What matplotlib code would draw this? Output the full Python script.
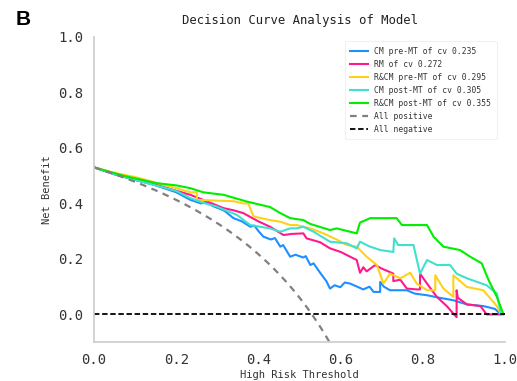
import matplotlib
matplotlib.use("Agg")
import matplotlib.pyplot as plt
import numpy as np

# prevalence
prevalence = 0.53

# CM pre-MT (blue)
cm_pre_t = [0.0, 0.05, 0.10, 0.15, 0.20, 0.234, 0.26, 0.27, 0.29, 0.315, 0.32, 0.339, 0.36, 0.38,
            0.39, 0.40, 0.412, 0.43, 0.44, 0.453, 0.46, 0.477, 0.49, 0.509, 0.515, 0.526, 0.534, 0.55,
            0.565, 0.574, 0.585, 0.599, 0.61, 0.623, 0.64, 0.655, 0.67, 0.68, 0.696, 0.696, 0.705,
            0.72, 0.745, 0.761, 0.78, 0.81, 0.84, 0.874, 0.907, 0.947, 0.975, 0.99]
cm_pre_nb = [0.53, 0.505, 0.485, 0.465, 0.44, 0.413, 0.40, 0.405, 0.39, 0.375, 0.37, 0.347, 0.335,
             0.316, 0.32, 0.30, 0.28, 0.27, 0.275, 0.244, 0.25, 0.208, 0.215, 0.205, 0.21, 0.178,
             0.184, 0.15, 0.12, 0.093, 0.105, 0.098, 0.115, 0.111, 0.10, 0.09, 0.10, 0.081, 0.081,
             0.117, 0.10, 0.087, 0.087, 0.087, 0.075, 0.069, 0.06, 0.051, 0.036, 0.03, 0.02, 0.0]

# RM (pink)
rm_t = [0.0, 0.05, 0.10, 0.152, 0.19, 0.234, 0.27, 0.315, 0.34, 0.363, 0.40, 0.428, 0.461, 0.48,
        0.509, 0.517, 0.55, 0.574, 0.60, 0.639, 0.647, 0.655, 0.663, 0.684, 0.70, 0.728, 0.728,
        0.745, 0.761, 0.785, 0.793, 0.793, 0.81, 0.834, 0.858, 0.882, 0.882, 0.885, 0.907, 0.94,
        0.955, 0.99]
rm_nb = [0.53, 0.505, 0.485, 0.467, 0.45, 0.431, 0.41, 0.383, 0.375, 0.365, 0.335, 0.316, 0.286, 0.29,
         0.292, 0.274, 0.26, 0.238, 0.225, 0.196, 0.15, 0.17, 0.155, 0.178, 0.165, 0.147, 0.12,
         0.125, 0.093, 0.09, 0.09, 0.147, 0.111, 0.063, 0.03, -0.01, 0.087, 0.06, 0.036, 0.03,
         0.0, 0.0]

# R&CM pre-MT (yellow)
rcm_pre_t = [0.0, 0.05, 0.10, 0.15, 0.20, 0.234, 0.25, 0.25, 0.30, 0.339, 0.363, 0.375, 0.388,
             0.428, 0.453, 0.477, 0.493, 0.526, 0.558, 0.59, 0.615, 0.639, 0.663, 0.688, 0.704,
             0.72, 0.745, 0.769, 0.785, 0.81, 0.83, 0.83, 0.85, 0.874, 0.874, 0.907, 0.947, 0.98, 0.99]
rcm_pre_nb = [0.53, 0.51, 0.495, 0.475, 0.455, 0.44, 0.44, 0.413, 0.41, 0.408, 0.40, 0.40, 0.353,
              0.34, 0.334, 0.322, 0.322, 0.31, 0.292, 0.27, 0.25, 0.244, 0.208, 0.178, 0.111,
              0.147, 0.13, 0.15, 0.111, 0.087, 0.087, 0.141, 0.093, 0.063, 0.141, 0.099, 0.087,
              0.03, 0.0]

# CM post-MT (cyan)
cm_post_t = [0.0, 0.05, 0.10, 0.15, 0.20, 0.234, 0.27, 0.298, 0.32, 0.347, 0.38, 0.428, 0.453,
             0.477, 0.493, 0.509, 0.534, 0.574, 0.615, 0.639, 0.647, 0.67, 0.696, 0.728, 0.73,
             0.74, 0.777, 0.793, 0.81, 0.834, 0.866, 0.882, 0.907, 0.955, 0.98, 0.99]
cm_post_nb = [0.53, 0.505, 0.485, 0.465, 0.445, 0.419, 0.40, 0.389, 0.375, 0.359, 0.322, 0.31, 0.298,
              0.31, 0.31, 0.316, 0.298, 0.262, 0.256, 0.238, 0.262, 0.245, 0.232, 0.225, 0.274,
              0.25, 0.25, 0.147, 0.196, 0.178, 0.178, 0.147, 0.13, 0.105, 0.075, 0.0]

# R&CM post-MT (green)
rcm_post_t = [0.0, 0.071, 0.152, 0.20, 0.234, 0.266, 0.315, 0.371, 0.428, 0.453, 0.477, 0.509,
              0.526, 0.574, 0.59, 0.639, 0.647, 0.672, 0.736, 0.749, 0.81, 0.826, 0.85, 0.89, 0.915,
              0.943, 0.96, 0.98, 0.996]
rcm_post_nb = [0.53, 0.50, 0.473, 0.465, 0.455, 0.44, 0.431, 0.407, 0.387, 0.365, 0.347, 0.34,
               0.326, 0.304, 0.31, 0.292, 0.331, 0.347, 0.347, 0.322, 0.322, 0.28, 0.244, 0.232, 0.208,
               0.184, 0.123, 0.063, 0.0]

labels = ["CM pre-MT of cv 0.235", "RM of cv 0.272", "R&CM pre-MT of cv 0.295",
          "CM post-MT of cv 0.305", "R&CM post-MT of cv 0.355"]
colors = ["#1e8fff", "#ff1a8c", "#ffd21a", "#40e0d0", "#00ee00"]

mono = "DejaVu Sans Mono"

fig = plt.figure(figsize=(5.17, 3.81), dpi=100)
ax = fig.add_axes([0.182, 0.102, 0.795, 0.801])

series = [(cm_pre_t, cm_pre_nb), (rm_t, rm_nb), (rcm_pre_t, rcm_pre_nb),
          (cm_post_t, cm_post_nb), (rcm_post_t, rcm_post_nb)]
for (t, nb), lab, col in zip(series, labels, colors):
    ax.plot(t, nb, color=col, lw=1.5, label=lab)

# treat-all and treat-none reference lines
thr = np.linspace(0, 0.6, 200)
all_pos = prevalence - (1 - prevalence) * thr / (1 - thr)
ax.plot(thr, all_pos, color="gray", ls=(0, (3, 2.5)), lw=1.6, label="All positive")
ax.plot([0, 1], [0, 0], color="black", ls=(0, (3, 1.5)), lw=1.3, label="All negative")

ax.set_xlim(0, 1)
ax.set_ylim(-0.1, 1.0)
ax.set_xticks([0, 0.2, 0.4, 0.6, 0.8, 1.0])
ax.set_yticks([0, 0.2, 0.4, 0.6, 0.8, 1.0])
ax.set_xticklabels(["0.0", "0.2", "0.4", "0.6", "0.8", "1.0"], fontfamily=mono, fontsize=10, color="#333333")
ax.set_yticklabels(["0.0", "0.2", "0.4", "0.6", "0.8", "1.0"], fontfamily=mono, fontsize=10, color="#333333")
ax.tick_params(length=0, pad=8)
for s in ["top", "right"]:
    ax.spines[s].set_visible(False)
for s in ["left", "bottom"]:
    ax.spines[s].set_color("#cccccc")
    ax.spines[s].set_linewidth(1.2)

ax.set_xlabel("High Risk Threshold", fontfamily=mono, fontsize=7.5, color="#333333", labelpad=2)
ax.set_ylabel("Net Benefit", fontfamily=mono, fontsize=7.5, color="#333333", labelpad=4)
ax.set_title("Decision Curve Analysis of Model", fontfamily=mono, fontsize=8.8, color="#222222", pad=9)

leg = ax.legend(loc="upper right", prop={"family": mono, "size": 5.8}, frameon=True,
                borderpad=0.7, labelspacing=0.5, handlelength=2.2, bbox_to_anchor=(0.99, 1.0))
leg.get_frame().set_edgecolor("#eeeeee")
leg.get_frame().set_linewidth(0.8)
for txt in leg.get_texts():
    txt.set_color("#333333")

fig.text(0.03, 0.935, "B", fontsize=15, fontweight="bold", family="Liberation Sans")

fig.savefig("out.png", dpi=100)
